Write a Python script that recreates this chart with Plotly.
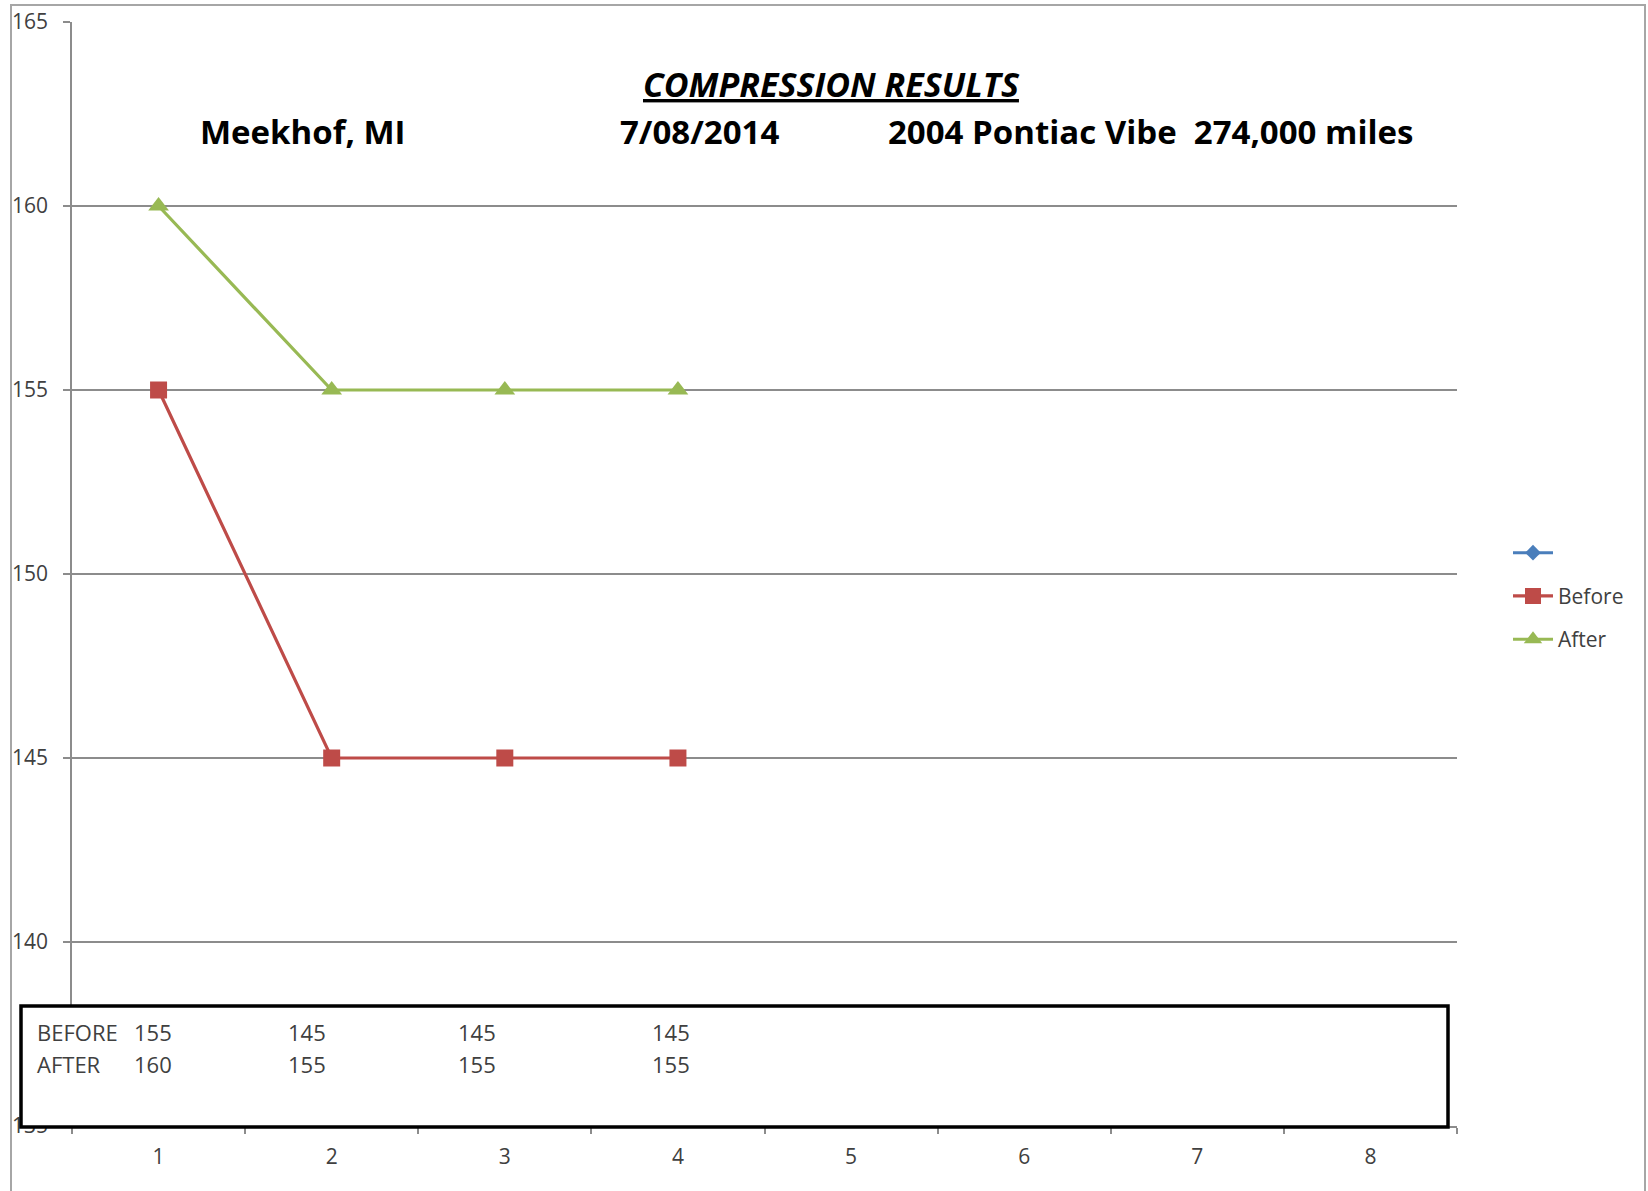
import plotly.graph_objects as go

# ---- data ----
cylinders = ["1", "2", "3", "4", "5", "6", "7", "8"]
cyl_measured = ["1", "2", "3", "4"]
series_blank = [None, None, None, None]
before = [155, 145, 145, 145]
after = [160, 155, 155, 155]
y_ticks = [135, 140, 145, 150, 155, 160, 165]

title_main = "COMPRESSION RESULTS"
sub_location = "Meekhof, MI"
sub_date = "7/08/2014"
sub_vehicle = "2004 Pontiac Vibe&nbsp;&nbsp;274,000 miles"

# ---- layout geometry (page pixels) ----
W, H = 1648, 1191
L, R, T, B = 72, 1457, 22, 1126


def px(x):
    return (x - L) / (R - L)


def py(y):
    return (B - y) / (B - T)


BLUE = "#4A7EBB"
RED = "#BE4B48"
GREEN = "#98B954"
GRID = "#8c8c8c"
TXT = "#404040"
FONT = "Open Sans"

fig = go.Figure()
fig.add_trace(go.Scatter(
    x=cyl_measured, y=series_blank, name="", mode="lines+markers",
    line=dict(color=BLUE, width=3), marker=dict(symbol="diamond", size=12, color=BLUE),
    legendgroup="a"))
fig.add_trace(go.Scatter(
    x=cyl_measured, y=before, name="Before", mode="lines+markers",
    line=dict(color=RED, width=3.2), marker=dict(symbol="square", size=17, color=RED),
    legendgroup="b"))
fig.add_trace(go.Scatter(
    x=cyl_measured, y=after, name="After", mode="lines+markers",
    line=dict(color=GREEN, width=3.2), marker=dict(symbol="triangle-up", size=18, color=GREEN),
    legendgroup="c"))

fig.update_layout(
    width=W, height=H,
    margin=dict(l=L, r=W - R, t=T, b=H - B, autoexpand=False),
    paper_bgcolor="white", plot_bgcolor="white",
    font=dict(family=FONT, color=TXT),
    showlegend=True,
    legend=dict(x=px(1508), y=py(596), xanchor="left", yanchor="middle",
                font=dict(size=21, color=TXT), tracegroupgap=13,
                bgcolor="rgba(0,0,0,0)", itemwidth=40),
    xaxis=dict(type="category", categoryorder="array", categoryarray=cylinders,
               tickvals=cylinders, range=[-0.5, 7.5], tickson="boundaries",
               ticks="outside", ticklen=6, tickcolor=GRID, tickwidth=1.5,
               showline=True, linecolor=GRID, linewidth=1.5, showgrid=False,
               zeroline=False, tickfont=dict(size=21, color=TXT),
               ticklabelstandoff=11, automargin=False),
    yaxis=dict(range=[135, 165], tickvals=y_ticks, ticks="outside", ticklen=7,
               tickcolor=GRID, tickwidth=1.5, showline=True, linecolor=GRID,
               linewidth=1.5, showgrid=True, gridcolor=GRID, gridwidth=1.5,
               zeroline=False, tickfont=dict(size=21, color=TXT),
               ticklabelstandoff=11, automargin=False),
)

# outer chart border
fig.add_shape(type="rect", xref="paper", yref="paper",
              x0=px(11), x1=px(1645), y0=py(1210), y1=py(5),
              line=dict(color="#a6a6a6", width=2), fillcolor="rgba(0,0,0,0)",
              layer="above")

# title texts
fig.add_annotation(xref="paper", yref="paper", x=px(831), y=py(84),
                   text="<b><i><u>" + title_main + "</u></i></b>", showarrow=False,
                   font=dict(size=34, color="black"), xanchor="center", yanchor="middle")
fig.add_annotation(xref="paper", yref="paper", x=px(303), y=py(131),
                   text="<b>" + sub_location + "</b>", showarrow=False,
                   font=dict(size=33, color="black"), xanchor="center", yanchor="middle")
fig.add_annotation(xref="paper", yref="paper", x=px(699), y=py(131),
                   text="<b>" + sub_date + "</b>", showarrow=False,
                   font=dict(size=33, color="black"), xanchor="center", yanchor="middle")
fig.add_annotation(xref="paper", yref="paper", x=px(1150), y=py(131),
                   text="<b>" + sub_vehicle + "</b>", showarrow=False,
                   font=dict(size=33, color="black"), xanchor="center", yanchor="middle")

# data text box at the bottom
fig.add_shape(type="rect", xref="paper", yref="paper",
              x0=px(21), x1=px(1448), y0=py(1127), y1=py(1006),
              line=dict(color="black", width=3.5), fillcolor="white", layer="above")

col_x = [132, 286, 456, 650]
row_y = {"BEFORE": 1032, "AFTER": 1064}
for label, vals in (("BEFORE", before), ("AFTER", after)):
    fig.add_annotation(xref="paper", yref="paper", x=px(35), y=py(row_y[label]),
                       text=label, showarrow=False, xanchor="left", yanchor="middle",
                       font=dict(size=22, color=TXT))
    for cx, v in zip(col_x, vals):
        fig.add_annotation(xref="paper", yref="paper", x=px(cx), y=py(row_y[label]),
                           text=str(v), showarrow=False, xanchor="left", yanchor="middle",
                           font=dict(size=22, color=TXT))

fig.write_html("out.html", config={"displayModeBar": False},
               post_script="document.body.style.margin='0px';")
